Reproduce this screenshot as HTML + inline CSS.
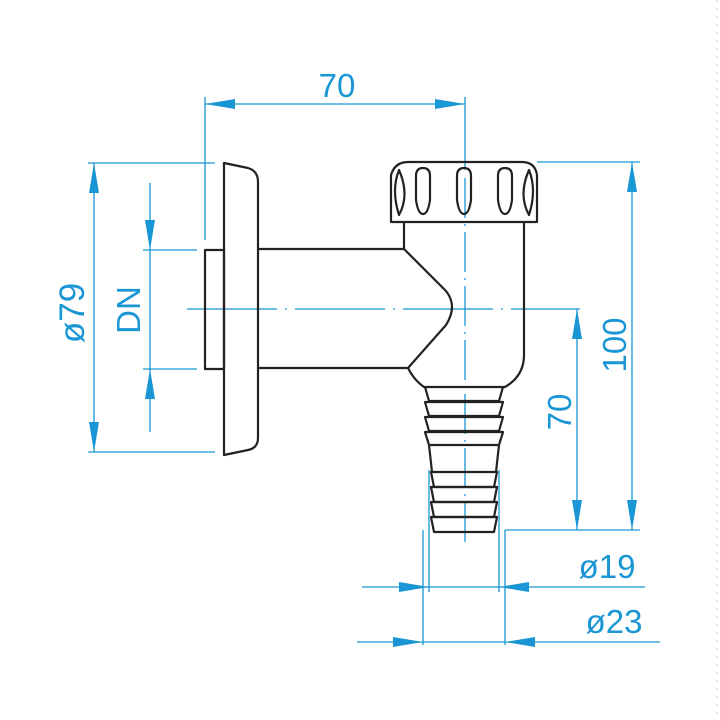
<!DOCTYPE html>
<html><head><meta charset="utf-8"><style>html,body{margin:0;padding:0;background:#fff}svg{display:block}</style></head>
<body>
<svg width="720" height="720" viewBox="0 0 720 720" xmlns="http://www.w3.org/2000/svg">
<defs>
<marker id="a" viewBox="0 0 30 10" refX="30" refY="5" markerWidth="30" markerHeight="10" markerUnits="userSpaceOnUse" orient="auto"><path d="M0,0 L30,5 L0,10 Z" fill="#1a96d4"/></marker>
</defs>
<g stroke="#1a96d4" stroke-width="1.3" fill="none">
<line x1="335" y1="104" x2="205" y2="104" marker-end="url(#a)"/>
<line x1="335" y1="104" x2="465" y2="104" marker-end="url(#a)"/>
<line x1="205" y1="97" x2="205" y2="240"/>
<line x1="465" y1="97" x2="465" y2="170"/>
<line x1="465" y1="178" x2="465" y2="545" stroke-dasharray="40,6,2,6"/>
<line x1="88" y1="163" x2="215" y2="163"/>
<line x1="88" y1="452" x2="215" y2="452"/>
<line x1="94" y1="308" x2="94" y2="163" marker-end="url(#a)"/>
<line x1="94" y1="308" x2="94" y2="452" marker-end="url(#a)"/>
<line x1="143" y1="250" x2="197" y2="250"/>
<line x1="143" y1="369" x2="197" y2="369"/>
<line x1="150" y1="183" x2="150" y2="250" marker-end="url(#a)"/>
<line x1="150" y1="432" x2="150" y2="369" marker-end="url(#a)"/>
<line x1="150" y1="250" x2="150" y2="369"/>
<line x1="187" y1="309" x2="580" y2="309" stroke-dasharray="90,8,2,8"/>
<line x1="537" y1="162" x2="640" y2="162"/>
<line x1="505" y1="530" x2="640" y2="530"/>
<line x1="632" y1="345" x2="632" y2="162" marker-end="url(#a)"/>
<line x1="632" y1="345" x2="632" y2="530" marker-end="url(#a)"/>
<line x1="577" y1="420" x2="577" y2="309" marker-end="url(#a)"/>
<line x1="577" y1="420" x2="577" y2="530" marker-end="url(#a)"/>
<line x1="429" y1="470" x2="429" y2="592"/>
<line x1="499" y1="470" x2="499" y2="592"/>
<line x1="362" y1="587" x2="429" y2="587" marker-end="url(#a)"/>
<line x1="645" y1="587" x2="499" y2="587" marker-end="url(#a)"/>
<line x1="429" y1="587" x2="499" y2="587"/>
<line x1="423" y1="530" x2="423" y2="645"/>
<line x1="505" y1="530" x2="505" y2="645"/>
<line x1="357" y1="642" x2="423" y2="642" marker-end="url(#a)"/>
<line x1="660" y1="642" x2="505" y2="642" marker-end="url(#a)"/>
<line x1="423" y1="642" x2="505" y2="642"/>
</g>
<line x1="717" y1="0" x2="717" y2="720" stroke="#f0c0c0" stroke-width="1" stroke-dasharray="2,6"/>
<g fill="#1a96d4" font-family="Liberation Sans, sans-serif" font-size="33">
<text x="337" y="97" text-anchor="middle">70</text>
<text transform="translate(84,313) rotate(-90)" text-anchor="middle" font-size="35">ø79</text>
<text transform="translate(140,310) rotate(-90)" text-anchor="middle">DN</text>
<text transform="translate(626,345) rotate(-90)" text-anchor="middle">100</text>
<text transform="translate(571,412) rotate(-90)" text-anchor="middle">70</text>
<text x="607" y="578" text-anchor="middle">ø19</text>
<text x="614" y="633" text-anchor="middle">ø23</text>
</g>
<g stroke="#222" stroke-width="2.2" fill="none" stroke-linejoin="round">
<path d="M224,163 L248,168 Q258,171 258,182 L258,438 Q258,448 248,450 L224,455 Z"/>
<rect x="205" y="250" width="19" height="119"/>
<path d="M258,249 L404,249 L446,291 Q458,306 446,325 L408,368 L258,368"/>
<path d="M404,223 L404,249"/>
<path d="M408,368 Q414,380 424,387 L505,387 Q524,376 524,355 L524,223"/>
<path d="M391,222 L391,175 Q395,162 408,162 L522,162 Q535,162 537,175 L537,222 Z"/>
<path d="M399,170 Q391,190 399,215 Q410,195 399,170Z"/>
<path d="M529,170 Q537,190 529,215 Q518,195 529,170Z"/>
<path d="M416,176 Q416,168 423,168 Q430,168 430,176 L430,200 Q428,214 423,214 Q418,214 416,200 Z"/>
<path d="M457,176 Q457,168 464,168 Q471,168 471,176 L471,200 Q469,214 464,214 Q459,214 457,200 Z"/>
<path d="M498,176 Q498,168 505,168 Q512,168 512,176 L512,200 Q510,214 505,214 Q500,214 498,200 Z"/>
<!-- barb rings: wider at top -->
<path d="M425,387 L429,401 L499,401 L503,387"/>
<path d="M425,402 L503,402 L499,416 L429,416 Z"/>
<path d="M425,417 L503,417 L499,431 L429,431 Z"/>
<path d="M425,432 L503,432 L499,445 L429,445 Z"/>
<path d="M429,445 L432,472 M499,445 L496,472"/>
<path d="M431,472 L497,472 L494,487 L434,487 Z"/>
<path d="M431,487 L497,487 L494,502 L434,502 Z"/>
<path d="M431,502 L497,502 L494,517 L434,517 Z"/>
<path d="M431,517 L497,517 L494,532 L434,532 Z"/>
</g>
</svg>
</body></html>
